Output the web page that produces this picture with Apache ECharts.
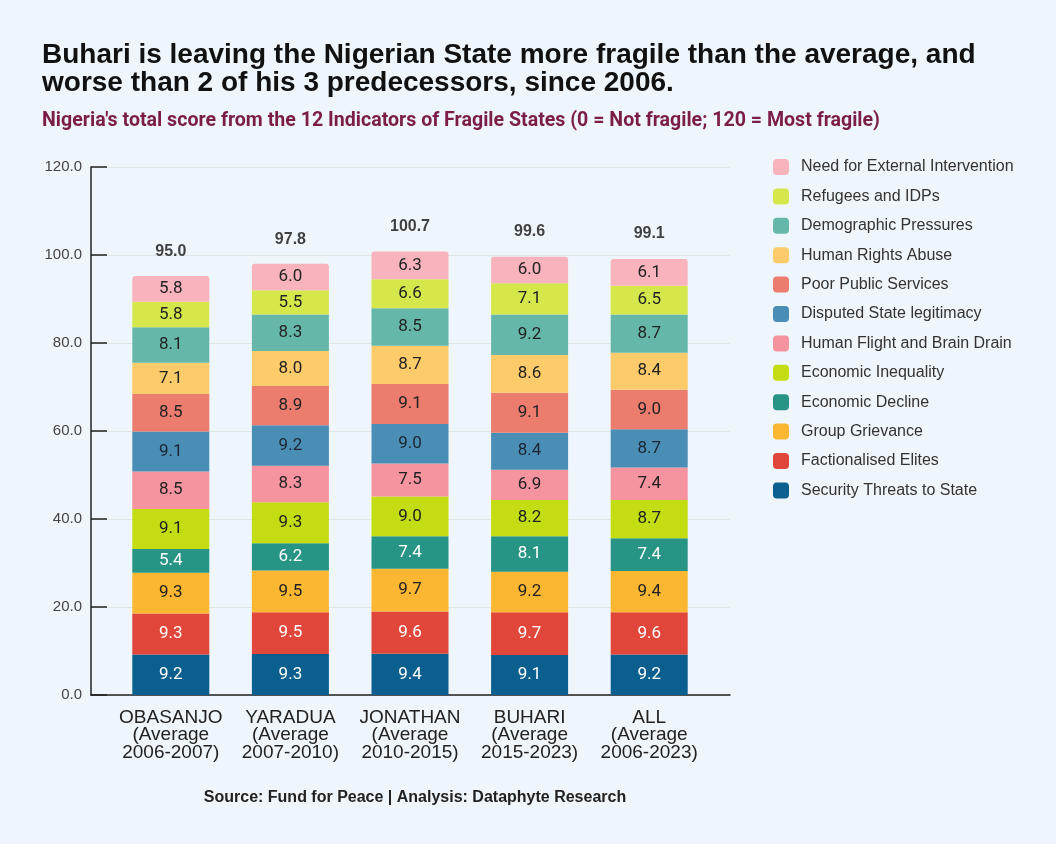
<!DOCTYPE html>
<html>
<head>
<meta charset="utf-8">
<script src="https://cdn.jsdelivr.net/npm/echarts@6/dist/echarts.min.js"></script>
<style>
html,body{margin:0;padding:0;background:#eef5fb;}
#chart{width:1056px;height:844px;}
</style>
</head>
<body>
<div id="chart"></div>
<script>
const categories = ["OBASANJO\n(Average\n2006-2007)", "YARADUA\n(Average\n2007-2010)", "JONATHAN\n(Average\n2010-2015)", "BUHARI\n(Average\n2015-2023)", "ALL\n(Average\n2006-2023)"];
const seriesNames = ["Security Threats to State", "Factionalised Elites", "Group Grievance", "Economic Decline", "Economic Inequality", "Human Flight and Brain Drain", "Disputed State legitimacy", "Poor Public Services", "Human Rights Abuse", "Demographic Pressures", "Refugees and IDPs", "Need for External Intervention"];
const securityThreats = [9.2, 9.3, 9.4, 9.1, 9.2];
const factionalisedElites = [9.3, 9.5, 9.6, 9.7, 9.6];
const groupGrievance = [9.3, 9.5, 9.7, 9.2, 9.4];
const economicDecline = [5.4, 6.2, 7.4, 8.1, 7.4];
const economicInequality = [9.1, 9.3, 9.0, 8.2, 8.7];
const humanFlight = [8.5, 8.3, 7.5, 6.9, 7.4];
const disputedLegitimacy = [9.1, 9.2, 9.0, 8.4, 8.7];
const poorPublicServices = [8.5, 8.9, 9.1, 9.1, 9.0];
const humanRights = [7.1, 8.0, 8.7, 8.6, 8.4];
const demographicPressures = [8.1, 8.3, 8.5, 9.2, 8.7];
const refugeesIDPs = [5.8, 5.5, 6.6, 7.1, 6.5];
const externalIntervention = [5.8, 6.0, 6.3, 6.0, 6.1];
const totals = [95.0, 97.8, 100.7, 99.6, 99.1];
const yTicks = [0, 20, 40, 60, 80, 100, 120];

const seriesValues = [securityThreats, factionalisedElites, groupGrievance, economicDecline, economicInequality, humanFlight, disputedLegitimacy, poorPublicServices, humanRights, demographicPressures, refugeesIDPs, externalIntervention];
const colors = ["#0b5f8f", "#e0473a", "#fbb731", "#279485", "#c4dd13", "#f5939f", "#4a8db5", "#ec7c6e", "#fdcb6a", "#65b8a9", "#d5e74b", "#f8b3bd"];
const labelColors = ["#ffffff", "#ffffff", "#222222", "#ffffff", "#222222", "#222222", "#1c2633", "#222222", "#222222", "#222222", "#222222", "#222222"];

const subtitleText = "Nigeria's total score from the 12 Indicators of Fragile States (0 = Not fragile; 120 = Most fragile)";
const subtitleFont = "bold 20px Roboto";
const measureCtx = document.createElement('canvas').getContext('2d');
measureCtx.font = subtitleFont;
const subtitleScale = 838 / measureCtx.measureText(subtitleText).width;

const chart = echarts.init(document.getElementById('chart'), null, {renderer: 'canvas'});

const barSeries = seriesNames.map((name, i) => ({
  name: name,
  type: 'bar',
  stack: 'total',
  xAxisIndex: 1,
  yAxisIndex: 1,
  barWidth: 77,
  data: seriesValues[i],
  itemStyle: {color: colors[i], borderRadius: i === seriesNames.length - 1 ? [3, 3, 0, 0] : 0},
  label: {
    show: true,
    position: 'inside',
    color: labelColors[i],
    fontFamily: 'Roboto',
    fontSize: 17,
    formatter: p => p.value.toFixed(1)
  },
  emphasis: {disabled: true}
}));

barSeries.push({
  name: 'Total',
  type: 'scatter',
  xAxisIndex: 1,
  yAxisIndex: 1,
  symbolSize: 0,
  data: totals,
  label: {
    show: true,
    position: 'top',
    distance: 17,
    color: '#111111',
    fontFamily: 'Liberation Sans',
    fontWeight: 'bold',
    fontSize: 16,
    formatter: p => p.value.toFixed(1)
  }
});

const option = {
  backgroundColor: '#eef5fb',
  animation: false,
  title: [
    {
      text: 'Buhari is leaving the Nigerian State more fragile than the average, and\nworse than 2 of his 3 predecessors, since 2006.',
      left: 37, top: 36,
      textStyle: {fontFamily: 'Liberation Sans', fontWeight: 'bold', fontSize: 28, lineHeight: 28, color: '#111111'}
    },
    {
      text: 'Source: Fund for Peace | Analysis: Dataphyte Research',
      left: 410, top: 785, textAlign: 'center',
      textStyle: {fontFamily: 'Liberation Sans', fontWeight: 'bold', fontSize: 16, color: '#222222'}
    }
  ],
  graphic: [
    {
      type: 'text',
      x: 42, y: 111,
      scaleX: subtitleScale,
      style: {text: subtitleText, font: subtitleFont, fill: '#7b1d47', textVerticalAlign: 'top'}
    }
  ],
  legend: {
    orient: 'vertical',
    left: 773, top: 159,
    padding: 0,
    itemWidth: 16, itemHeight: 16, itemGap: 13.4,
    icon: 'roundRect',
    data: seriesNames.slice().reverse(),
    textStyle: {fontFamily: 'Liberation Sans', fontSize: 16, color: '#333333', padding: [0, 0, 0, 7], lineHeight: 16}
  },
  grid: [
    {left: 91, top: 167, width: 639, height: 528},
    {left: 111, top: 167, width: 598, height: 528}
  ],
  xAxis: [
    {
      gridIndex: 0, type: 'value', min: 0, max: 1,
      axisLine: {show: true, lineStyle: {color: '#222222', width: 1.5}},
      axisTick: {show: false}, axisLabel: {show: false}, splitLine: {show: false}
    },
    {
      gridIndex: 1, type: 'category', data: categories,
      axisLine: {show: false}, axisTick: {show: false}, splitLine: {show: false},
      axisLabel: {fontFamily: 'Liberation Sans', fontSize: 19, lineHeight: 17.5, color: '#222222', margin: 14, interval: 0}
    }
  ],
  yAxis: [
    {
      gridIndex: 0, type: 'value', min: yTicks[0], max: yTicks[yTicks.length - 1], interval: 20,
      axisLine: {show: true, lineStyle: {color: '#222222', width: 1.5}},
      axisTick: {show: true, inside: true, length: 16, lineStyle: {color: '#222222', width: 1.5}},
      axisLabel: {fontFamily: 'Liberation Sans', fontSize: 15, color: '#444444', margin: 9, formatter: v => v.toFixed(1)},
      splitLine: {show: true, lineStyle: {color: '#dbe7e2', width: 1}}
    },
    {
      gridIndex: 1, type: 'value', min: yTicks[0], max: yTicks[yTicks.length - 1], interval: 20,
      show: false
    }
  ],
  series: barSeries
};
chart.setOption(option);
</script>
</body>
</html>
